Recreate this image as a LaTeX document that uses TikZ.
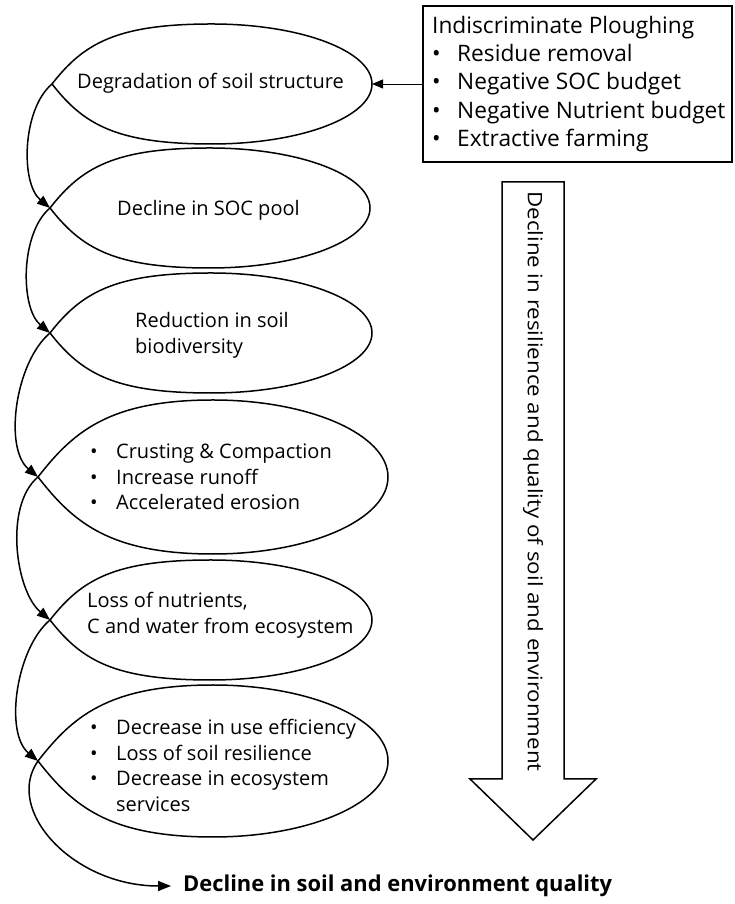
\documentclass[tikz,border=0pt]{standalone}
\usepackage{fontspec}
\setmainfont{Open Sans}
\usetikzlibrary{arrows.meta}
\newcommand{\bl}{\makebox[26pt][l]{\textbullet}}
\newcommand{\lemon}[3]{%
  \draw[ell] (#1.west) .. controls +(52:{0.32*#2}) and +({-0.6*#2},0) .. (#1.north)
    .. controls +({0.552*#2},0) and +(0,{0.552*#3}) .. (#1.east)
    .. controls +(0,{-0.552*#3}) and +({0.552*#2},0) .. (#1.south)
    .. controls +({-0.6*#2},0) and +(-52:{0.32*#2}) .. (#1.west);}
\begin{document}
\begin{tikzpicture}[x=1pt,y=1pt,
  frame/.style={draw=none,rectangle,inner sep=0pt,outer sep=0pt},
  ell/.style={line width=1.5pt,line join=round},
  etext/.style={inner sep=0pt,align=left,font=\fontsize{20}{25.5}\selectfont},
  conn/.style={line width=1.5pt,-{Triangle[length=13pt,width=10pt]}},
  thinconn/.style={line width=0.8pt,-{Triangle[length=11pt,width=9pt]}},
  plbox/.style={draw,line width=1.5pt,rectangle,inner sep=0pt,outer sep=0pt,
    minimum width=309pt,minimum height=156pt,anchor=north west}]
\useasboundingbox (0,0) rectangle (734,904);
% ellipse frames
\node[frame,minimum width=320pt,minimum height=120pt] (E1) at (212,820) {};
\node[frame,minimum width=320pt,minimum height=120pt] (E2) at (210,696) {};
\node[frame,minimum width=322pt,minimum height=120pt] (E3) at (211,571) {};
\node[frame,minimum width=350pt,minimum height=154pt] (E4) at (213,427) {};
\node[frame,minimum width=322pt,minimum height=120pt] (E5) at (211,284) {};
\node[frame,minimum width=350pt,minimum height=152pt] (E6) at (213,143) {};
\lemon{E1}{160}{60}
\lemon{E2}{160}{60}
\lemon{E3}{161}{60}
\lemon{E4}{175}{77}
\lemon{E5}{161}{60}
\lemon{E6}{175}{76}
% ellipse texts
\node[etext,anchor=west] (T1) at (77,821) {Degradation of soil structure};
\node[etext,anchor=west] (T2) at (117,694) {Decline in SOC pool};
\node[etext,anchor=west] (T3) at (135,568.5) {Reduction in soil\\biodiversity};
\node[etext,anchor=west] (T4) at (90,427) {\bl Crusting \& Compaction\\\bl Increase runoff\\\bl Accelerated erosion};
\node[etext,anchor=west] (T5) at (87,288.5) {Loss of nutrients,\\C and water from ecosystem};
\node[etext,anchor=west] (T6) at (90,138.5) {\bl Decrease in use efficiency\\\bl Loss of soil resilience\\\bl Decrease in ecosystem\\\hspace*{26pt}services};
% box
\node[plbox] (plough) at (423,898) {};
\node[inner sep=0pt,anchor=west,align=left,font=\fontsize{22.7}{28.3}\selectfont] (PT) at (432,820)
  {Indiscriminate Ploughing\\\makebox[25pt][l]{\textbullet}Residue removal\\\makebox[25pt][l]{\textbullet}Negative SOC budget\\\makebox[25pt][l]{\textbullet}Negative Nutrient budget\\\makebox[25pt][l]{\textbullet}Extractive farming};
\draw[thinconn] (plough.west) -- (E1.east);
% big arrow
\draw[line width=1.5pt,line join=miter] (502,722) -- (564,722) -- (564,125) -- (596,125) -- (533,64) -- (470,125) -- (502,125) -- cycle;
\node[rotate=-90,inner sep=0pt,font=\fontsize{20}{24}\selectfont] (trend) at (533,422.5)
  {\scalebox{1.115}[1]{Decline in resilience and quality of soil and environment}};
% final
\node[inner sep=0pt,anchor=west,font=\fontsize{21.9}{26}\selectfont\bfseries] (final) at (183,18)
  {Decline in soil and environment quality};
% connectors
\draw[conn] (E1.west) to[out=220,in=140,looseness=0.8] (E2.west);
\draw[conn] (E2.west) to[out=220,in=140,looseness=0.8] (E3.west);
\draw[conn] (E3.west) to[out=220,in=140,looseness=0.8] (E4.west);
\draw[conn] (E4.west) to[out=220,in=140,looseness=0.8] (E5.west);
\draw[conn] (E5.west) to[out=220,in=140,looseness=0.8] (E6.west);
\draw[conn,shorten >=12pt] (E6.west) .. controls +(235:60) and +(-110,0) .. (final.west);
\end{tikzpicture}
\end{document}
